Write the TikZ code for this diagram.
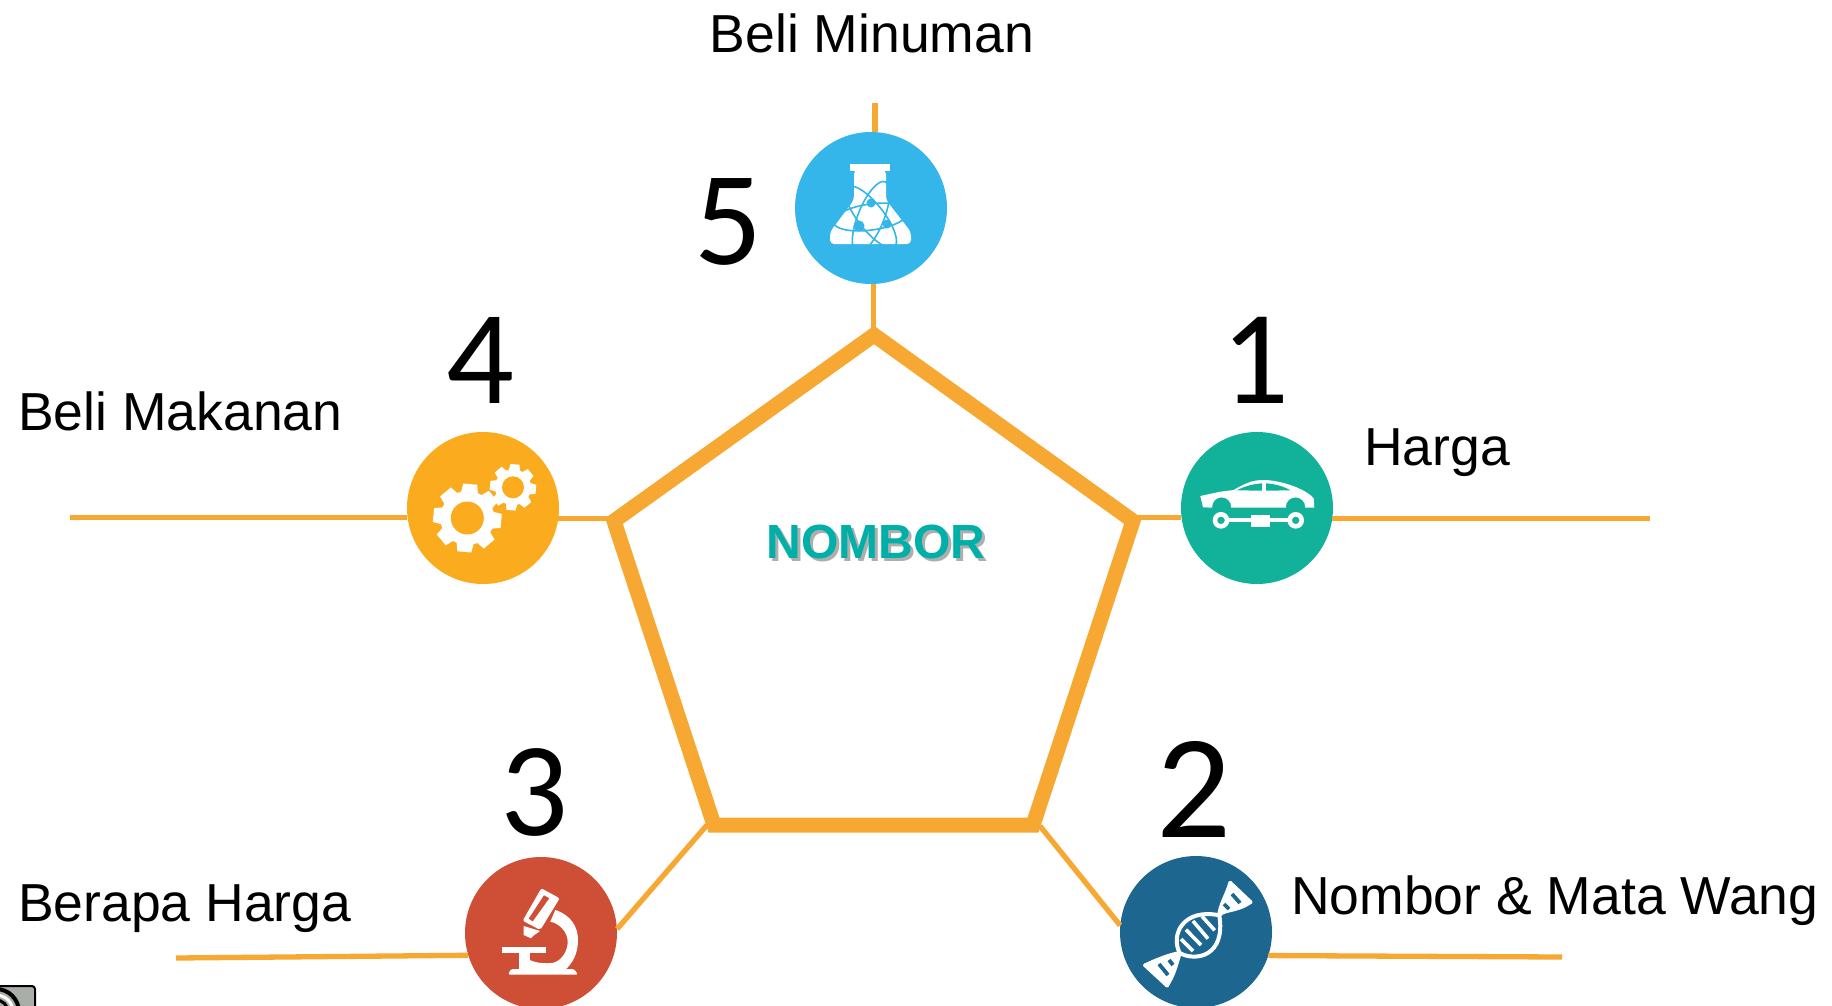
\documentclass[tikz,border=0pt]{standalone}
\usepackage{fontspec}
\setmainfont{Liberation Sans}
\newfontfamily\digitfont{Carlito}
\definecolor{lineorange}{HTML}{F7A832}
\definecolor{cyanball}{HTML}{35B6EA}
\definecolor{tealball}{HTML}{11B19A}
\definecolor{goldball}{HTML}{FAAB1E}
\definecolor{redball}{HTML}{CF4F36}
\definecolor{navyball}{HTML}{1C6690}
\definecolor{titleteal}{HTML}{00B0A8}
\definecolor{badgegrey}{HTML}{A9AEA8}
\tikzset{
  ball/.style={circle, minimum size=152pt, inner sep=0pt},
  wire/.style={draw=lineorange, line width=5.3pt},
  penta/.style={draw=lineorange, line width=15pt, miter limit=10},
  label/.style={font=\fontsize{53.5}{60}\selectfont, inner sep=0pt, anchor=west},
  digit/.style={font=\digitfont\fontsize{134}{140}\selectfont, inner sep=0pt},
  title/.style={font=\bfseries\fontsize{48}{50}\selectfont, inner sep=0pt},
  ico/.style={fill=white, draw=none}
}
\begin{document}
\begin{tikzpicture}[x=1pt, y=-1pt]
    \useasboundingbox (0, 0) rectangle (1832, 1005);
    % badge in the corner
    \begin{scope}
      \clip (0, 0) rectangle (1832, 1005);
      \draw[fill=badgegrey, line width=2pt, rounded corners=3pt] (-10, 986) rectangle (35, 1020);
      \draw[black, line width=4pt] (-4, 1012) circle (23);
      \draw[white, line width=3pt] (-4, 1012) circle (17);
      \draw[black, line width=3pt] (-4, 1012) circle (12);
    \end{scope}
    % balls
    \node[ball, fill=cyanball] (ballfive) at (871, 208) {};
    \node[ball, fill=goldball] (ballfour) at (483, 508) {};
    \node[ball, fill=tealball] (ballone) at (1257, 508) {};
    \node[ball, fill=redball] (ballthree) at (541, 933) {};
    \node[ball, fill=navyball] (balltwo) at (1196, 932) {};
    % pentagon
    \coordinate (ptop) at (874, 335);
    \coordinate (pright) at (1133, 521);
    \coordinate (pbr) at (1033, 825);
    \coordinate (pbl) at (714, 825);
    \coordinate (pleft) at (614, 521);
    \draw[penta] (ptop) -- (pright) -- (pbr) -- (pbl) -- (pleft) -- cycle;
    % free ends
    \coordinate (endfive) at (874, 103);
    \coordinate (endfour) at (70, 518);
    \coordinate (endone) at (1650, 518);
    \coordinate (endthree) at (176, 958);
    \coordinate (endtwo) at (1562, 957);
    \coordinate (diagl) at (707, 825);
    \coordinate (diagr) at (1040, 826);
    % connectors
    \draw[wire] (ballfive.87.7) -- (ballfive.87.7 |- endfive);
    \draw[wire] (ballfive.272.3) -- (ballfive.272.3 |- ptop);
    \draw[wire] (ballfour.187.6) -- (ballfour.187.6 -| endfour);
    \draw[wire] (ballfour.352.4) -- (ballfour.352.4 -| pleft);
    \draw[wire] (ballone.187.6) -- (ballone.187.6 -| pright);
    \draw[wire] (ballone.352.4) -- (ballone.352.4 -| endone);
    \draw[wire] (ballthree.197) -- (endthree);
    \draw[wire] (ballthree.3) -- (diagl);
    \draw[wire] (balltwo.342) -- (endtwo);
    \draw[wire] (balltwo.175) -- (diagr);
    % numbers
    \node[digit] (numfive) at (728, 222) {5};
    \node[digit] (numfour) at (480, 360) {4};
    \node[digit] (numone) at (1255, 360) {1};
    \node[digit] (numthree) at (534, 792) {3};
    \node[digit, font=\digitfont\fontsize{148}{150}\selectfont] (numtwo) at (1194, 789) {2};
    % labels
    \node[label, anchor=center] (lblfive) at (872, 33) {Beli Minuman};
    \node[label] (lblfour) at (18, 411) {Beli Makanan};
    \node[label] (lblone) at (1364, 453) {Harga};
    \node[label] (lblthree) at (18, 909) {Berapa Harga};
    \node[label] (lbltwo) at (1291, 901) {Nombor \& Mata Wang};
    % title with shadow
    \node[title, text=black!45, opacity=0.7] (titleshadow) at (879, 545) {NOMBOR};
    \node[title, text=titleteal] (titlenode) at (876, 542) {NOMBOR};
    % flask
    \begin{scope}[shift={(ballfive.center)}]
      \fill[ico] (-21, -44) rectangle (19, -37.5);
      \fill[ico, rounded corners=4pt] (-17, -38) -- (15, -38) -- (15, -8) -- (40, 24) -- (40, 36) -- (-41, 36) -- (-41, 24) -- (-17, -8) -- cycle;
      \foreach \ang in {8, 68, -52} {
        \draw[cyanball, line width=1.6pt, rotate around={\ang:(0, 9)}] (0, 9) ellipse (38 and 13);
      }
      \fill[cyanball] (0, -5) circle (4.5);
      \fill[cyanball] (-12, 18) circle (5.5);
      \fill[cyanball] (16, 16) circle (4.5);
    \end{scope}
    % car
    \begin{scope}[shift={(ballone.center)}]
      \fill[ico] (-56.7, -12) -- (-36.7, -16.3) -- (-23.3, -18) .. controls (-10, -26) and (-3, -28) .. (6.7, -28) .. controls (22, -28) and (48, -20) .. (56.7, -9.7) -- (57.3, -0.3) -- (48.3, -0.3) .. controls (48.3, -14) and (28.7, -14) .. (28.7, -0.3) -- (-25.7, -0.3) .. controls (-25.7, -14) and (-45, -14) .. (-45, -0.3) -- (-54, -0.7) -- cycle;
      \fill[tealball] (-20, -17.7) .. controls (-12, -22) and (-4, -24) .. (5, -24.7) -- (5, -17.3) -- cycle;
      \fill[tealball] (9, -24.7) .. controls (18, -24) and (26, -22) .. (33.3, -17.7) -- (9, -17.3) -- cycle;
      \draw[white, line width=4pt] (-36, 12.3) -- (38.7, 12.3);
      \fill[ico] (-5.7, 6.7) rectangle (13, 19.3);
      \draw[white, line width=4.6pt, fill=tealball] (-36, 12.3) circle (6);
      \draw[white, line width=4.6pt, fill=tealball] (38.7, 12.3) circle (6);
    \end{scope}
    % gears
    \begin{scope}[shift={(ballfour.center)}]
      \fill[ico] (-15.7, 10) circle (27);
      \foreach \ang in {-5, 40, ..., 310} {
        \fill[ico, shift={(-15.7, 10)}, rotate=\ang] (-7, -34) -- (7, -34) -- (9, -22) -- (-9, -22) -- cycle;
      }
      \fill[goldball] (-15.7, 10) circle (16.5);
      \fill[ico] (30, -20.7) circle (18);
      \foreach \ang in {-5, 40, ..., 310} {
        \fill[ico, shift={(30, -20.7)}, rotate=\ang] (-4.5, -23) -- (4.5, -23) -- (6, -15) -- (-6, -15) -- cycle;
      }
      \fill[goldball] (30, -20.7) circle (11);
    \end{scope}
    % microscope
    \begin{scope}[shift={(ballthree.center)}]
      \fill[ico] (-38.7, 14.3) rectangle (4.7, 19.7);
      \fill[ico] (-22.3, 19.7) rectangle (-11.3, 37);
      \fill[ico, rounded corners=1.5pt] (-30, 36) -- (33, 36) -- (37, 41.5) -- (-33, 41.5) -- cycle;
      \fill[ico] (14.3, -23) .. controls (30, -18) and (37, -6) .. (37, 7) .. controls (37, 20) and (32, 30) .. (24, 37) -- (-12, 37) -- (-11.3, 27) .. controls (-5, 30) and (5, 31) .. (12.7, 29.7) .. controls (21, 27) and (26.7, 18) .. (26.7, 8.7) .. controls (26.7, -1) and (18, -10) .. (9.3, -11.3) -- cycle;
      \fill[ico, rounded corners=2pt] (0.3, -44.7) -- (18.7, -34.7) -- (-0.7, -3) -- (-18.3, -12.3) -- cycle;
      \fill[redball] (3, -37.7) -- (8.2, -34.7) -- (-8.3, -11.7) -- (-12.3, -14.3) -- cycle;
      \fill[ico] (-17.3, -7) -- (-1, -2) -- (-8, 3) -- (-10, 5.3) -- (-17.3, 2) -- cycle;
    \end{scope}
    % dna
    \begin{scope}[shift={(balltwo.center)}, line cap=round]
      % end lobes
      \fill[ico] (23.3, -16.7) .. controls (24, -27) and (30, -35) .. (34.3, -49) -- (54.3, -30) .. controls (40, -20) and (27, -23) .. cycle;
      \fill[ico] (-16.3, 21) .. controls (-26, 23) and (-35, 26) .. (-50.7, 33.3) -- (-29, 53.3) .. controls (-22, 42) and (-20, 33) .. cycle;
      \draw[white, line width=4pt] (-29, 53.3) .. controls (-22, 42) and (-20, 33) .. (-16.3, 21) .. controls (-26, 2) and (-12, -24) .. (23.3, -16.7) .. controls (27, -23) and (40, -20) .. (54.3, -30);
      \draw[white, line width=4pt] (-50.7, 33.3) .. controls (-35, 26) and (-26, 23) .. (-16.3, 21) .. controls (0, 30) and (30, 24) .. (23.3, -16.7) .. controls (24, -27) and (30, -35) .. (34.3, -49);
      \draw[white, line width=4pt] (34.3, -49) -- (54.3, -30);
      \draw[white, line width=4pt] (-50.7, 33.3) -- (-29, 53.3);
      % rungs in the middle
      \foreach \xa/\ya/\xb/\yb in {-15/7/-3/19, -10/-2.3/5/13, -3/-11/12/6.7, 6/-15.7/18.7/-1.7} {
        \draw[white, line width=3.6pt, line cap=butt] (\xa, \ya) -- (\xb, \yb);
      }
      % slots in the end lobes
      \foreach \xa/\ya/\xb/\yb in {36/-38/44/-29, 28/-28/33/-23, -37/32/-28/43, -27/28/-23/33} {
        \draw[navyball, line width=3.8pt, line cap=butt] (\xa, \ya) -- (\xb, \yb);
      }
    \end{scope}
\end{tikzpicture}
\end{document}
